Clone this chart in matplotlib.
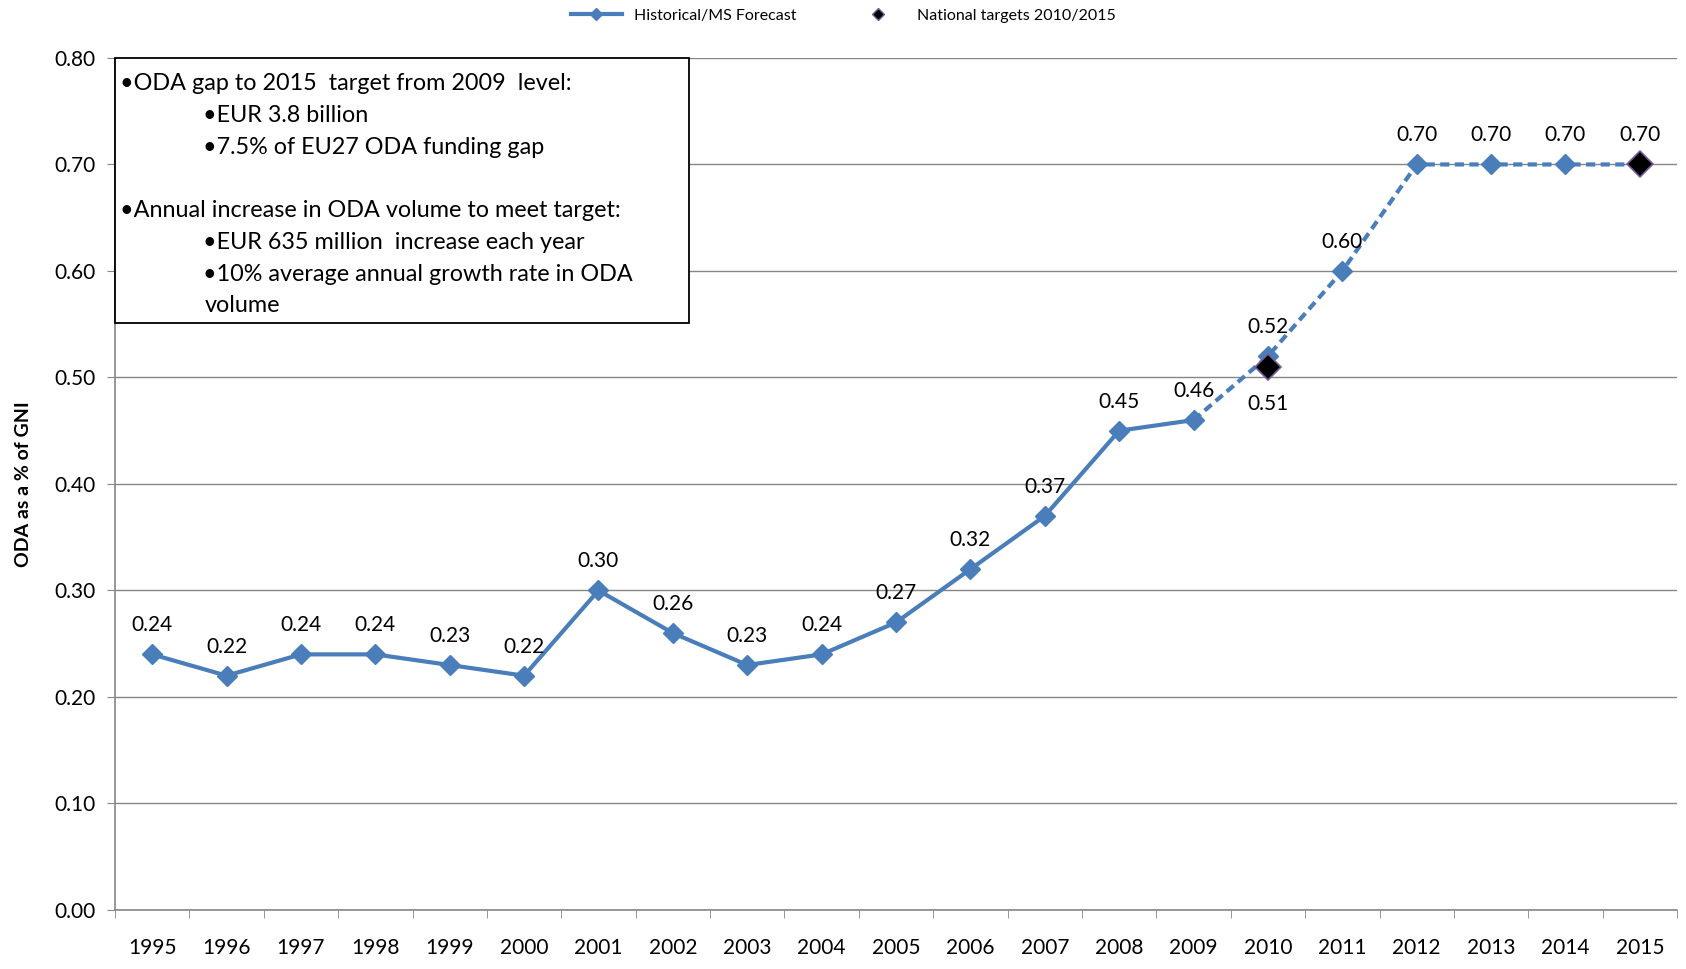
import numpy as np
import matplotlib.pyplot as plt
from matplotlib.lines import Line2D
from matplotlib.patches import Rectangle

years = ['1995', '1996', '1997', '1998', '1999', '2000', '2001', '2002', '2003', '2004',
         '2005', '2006', '2007', '2008', '2009', '2010', '2011', '2012', '2013', '2014', '2015']
oda = [0.24, 0.22, 0.24, 0.24, 0.23, 0.22, 0.30, 0.26, 0.23, 0.24,
       0.27, 0.32, 0.37, 0.45, 0.46, 0.52, 0.60, 0.70, 0.70, 0.70, 0.70]
last_hist = '2009'
target_years = ['2010', '2015']
targets = [0.51, 0.70]

# (indent level, text)
box_lines = [(0, "\u2022ODA gap to 2015  target from 2009  level:"),
             (1, "\u2022EUR 3.8 billion"),
             (1, "\u20227.5% of EU27 ODA funding gap"),
             (0, ""),
             (0, "\u2022Annual increase in ODA volume to meet target:"),
             (1, "\u2022EUR 635 million  increase each year"),
             (1, "\u202210% average annual growth rate in ODA"),
             (2, "volume")]

blue = '#4a7ebb'
plt.rcParams['font.family'] = ['Lato', 'DejaVu Sans']

fig = plt.figure(figsize=(16.86, 9.69), dpi=100)
ax = fig.add_axes([0.0682, 0.0609, 0.9265, 0.8793])

x = np.arange(len(years))
k = years.index(last_hist)
ax.plot(x[:k + 1], oda[:k + 1], color=blue, lw=3, zorder=3)
ax.plot(x[k:], oda[k:], color=blue, lw=3, ls=(0, (2.2, 1.3)), zorder=3)
ax.plot(x, oda, ls='none', marker='D', ms=10, color=blue, zorder=4)

tx = [years.index(t) for t in target_years]
ax.plot(tx, targets, ls='none', marker='D', ms=13, mfc='black', mec='#7a5c9e', mew=1.2, zorder=5)

for i, v in enumerate(oda):
    if years[i] == '2015':
        continue
    ax.annotate(f'{v:.2f}', (x[i], v), xytext=(0, 21), textcoords='offset points',
                ha='center', va='center', fontsize=15)
for t, v in zip(tx, targets):
    dy = -27 if years[t] == '2010' else 21
    ax.annotate(f'{v:.2f}', (t, v), xytext=(0, dy), textcoords='offset points',
                ha='center', va='center', fontsize=15)

ax.set_xlim(-0.5, len(years) - 0.5)
ax.set_ylim(0, 0.8)
ax.set_yticks(np.arange(0, 0.81, 0.1))
ax.set_yticklabels([f'{v:.2f}' for v in np.arange(0, 0.81, 0.1)], fontsize=15)
ax.set_xticks(x)
ax.set_xticklabels(years, fontsize=15)
ax.set_xticks(np.arange(-0.5, len(years)), minor=True)
ax.tick_params(axis='x', which='major', length=0, pad=20)
ax.tick_params(axis='x', which='minor', length=6, color='#868686')
ax.tick_params(axis='y', length=6, color='#868686', pad=8)
ax.grid(axis='y', color='#868686', lw=1)
ax.set_axisbelow(True)
for s in ['top', 'right']:
    ax.spines[s].set_visible(False)
for s in ['left', 'bottom']:
    ax.spines[s].set_color('#868686')
    ax.spines[s].set_linewidth(1.2)

ax.set_ylabel('ODA as a % of GNI', fontsize=14, fontweight='bold', labelpad=16)

# text box: x in axes fraction, y in data units
tr = ax.get_yaxis_transform()
ax.add_patch(Rectangle((0, 0.551), 0.3675, 0.249, transform=tr,
                       fc='white', ec='black', lw=1.3, zorder=6, clip_on=False))
indents = [0.003, 0.0565, 0.0575]
for i, (lvl, line) in enumerate(box_lines):
    ax.text(indents[lvl], 0.7757 - i * 0.0298, line, transform=tr,
            ha='left', va='center', fontsize=16.8, zorder=7)

handles = [Line2D([], [], color=blue, lw=3, marker='D', ms=6),
           Line2D([], [], ls='none', marker='D', ms=6, mfc='black', mec='#7a5c9e')]
fig.legend(handles, ['Historical/MS Forecast', 'National targets 2010/2015'],
           loc='center', bbox_to_anchor=(0.5, 0.984), ncol=2, frameon=False,
           fontsize=11.5, handlelength=3.2, columnspacing=3.5)

fig.savefig('out.png', dpi=100)
